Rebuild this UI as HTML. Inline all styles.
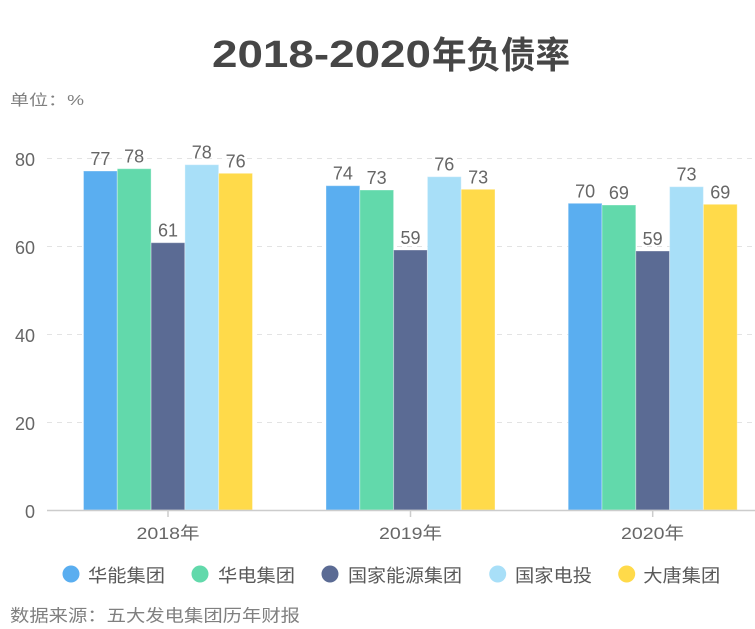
<!DOCTYPE html>
<html><head><meta charset="utf-8"><style>
html,body{margin:0;padding:0;background:#fff;}
svg{display:block;}
text{font-family:"Liberation Sans","Noto Sans CJK SC",sans-serif;}
</style></head><body>
<svg width="755" height="629" viewBox="0 0 755 629" xmlns="http://www.w3.org/2000/svg">
<rect width="755" height="629" fill="#fff"/>
<!-- title -->
<text x="212" y="67" font-size="38" font-weight="bold" fill="#464646" textLength="219" lengthAdjust="spacingAndGlyphs">2018-2020</text>
<text x="432" y="68" font-size="37" font-weight="bold" fill="#464646" textLength="138" lengthAdjust="spacingAndGlyphs" style="font-family:'Noto Sans CJK SC',sans-serif">年负债率</text>
<text x="10" y="105" font-size="15" fill="#808080" textLength="74" lengthAdjust="spacingAndGlyphs">单位：%</text>
<!-- grid -->
<g stroke="#e3e3e3" stroke-width="1" stroke-dasharray="5,5">
<line x1="47" y1="158.5" x2="755" y2="158.5"/>
<line x1="47" y1="246.5" x2="755" y2="246.5"/>
<line x1="47" y1="334.5" x2="755" y2="334.5"/>
<line x1="47" y1="422.5" x2="755" y2="422.5"/>
</g>
<g font-size="18" fill="#666" text-anchor="end">
<text x="35" y="166">80</text>
<text x="35" y="254">60</text>
<text x="35" y="342">40</text>
<text x="35" y="430">20</text>
<text x="35" y="518">0</text>
</g>
<!-- bars -->
<g stroke="rgba(255,255,255,0.35)" stroke-width="1">
<rect x="83.5" y="171" width="33.8" height="339" fill="#5aaef0"/>
<rect x="117.3" y="168.7" width="33.8" height="341.3" fill="#62d9ab"/>
<rect x="151.1" y="242.7" width="33.8" height="267.3" fill="#5b6b94"/>
<rect x="184.9" y="164.7" width="33.8" height="345.3" fill="#a8dff8"/>
<rect x="218.7" y="173.3" width="33.8" height="336.7" fill="#ffda4a"/>

<rect x="326" y="185.7" width="33.8" height="324.3" fill="#5aaef0"/>
<rect x="359.8" y="190" width="33.8" height="320" fill="#62d9ab"/>
<rect x="393.6" y="250" width="33.8" height="260" fill="#5b6b94"/>
<rect x="427.4" y="176.7" width="33.8" height="333.3" fill="#a8dff8"/>
<rect x="461.2" y="189.3" width="33.8" height="320.7" fill="#ffda4a"/>

<rect x="568.2" y="203.3" width="33.8" height="306.7" fill="#5aaef0"/>
<rect x="602" y="205" width="33.8" height="305" fill="#62d9ab"/>
<rect x="635.8" y="251" width="33.8" height="259" fill="#5b6b94"/>
<rect x="669.6" y="186.7" width="33.8" height="323.3" fill="#a8dff8"/>
<rect x="703.4" y="204.3" width="33.8" height="305.7" fill="#ffda4a"/>
</g>
<!-- value labels -->
<g font-size="18" fill="#666" text-anchor="middle">
<text x="100.4" y="165">77</text>
<text x="134.2" y="162.7">78</text>
<text x="168" y="236.7">61</text>
<text x="201.8" y="158.7">78</text>
<text x="235.6" y="167.3">76</text>

<text x="342.9" y="179.7">74</text>
<text x="376.7" y="184">73</text>
<text x="410.5" y="244">59</text>
<text x="444.3" y="170.7">76</text>
<text x="478.1" y="183.3">73</text>

<text x="585.1" y="197.3">70</text>
<text x="618.9" y="199">69</text>
<text x="652.7" y="245">59</text>
<text x="686.5" y="180.7">73</text>
<text x="720.3" y="198.3">69</text>
</g>
<!-- axis -->
<line x1="47" y1="510.5" x2="755" y2="510.5" stroke="#cccccc" stroke-width="1.5"/>
<g stroke="#cccccc" stroke-width="1.5">
<line x1="168" y1="510" x2="168" y2="517"/>
<line x1="410.5" y1="510" x2="410.5" y2="517"/>
<line x1="652.7" y1="510" x2="652.7" y2="517"/>
</g>
<g font-size="17" fill="#666">
<text x="136.5" y="539" textLength="63" lengthAdjust="spacingAndGlyphs">2018年</text>
<text x="379" y="539" textLength="63" lengthAdjust="spacingAndGlyphs">2019年</text>
<text x="621" y="539" textLength="63" lengthAdjust="spacingAndGlyphs">2020年</text>
</g>
<!-- legend -->
<circle cx="71" cy="574" r="8.5" fill="#5aaef0"/>
<circle cx="200" cy="574" r="8.5" fill="#62d9ab"/>
<circle cx="330" cy="574" r="8.5" fill="#5b6b94"/>
<circle cx="497.7" cy="574" r="8.5" fill="#a8dff8"/>
<circle cx="626.7" cy="574" r="8.5" fill="#ffda4a"/>
<g font-size="18" fill="#595959">
<text x="88" y="582" textLength="77" lengthAdjust="spacingAndGlyphs">华能集团</text>
<text x="218" y="582" textLength="77" lengthAdjust="spacingAndGlyphs">华电集团</text>
<text x="348" y="582" textLength="114" lengthAdjust="spacingAndGlyphs">国家能源集团</text>
<text x="515" y="582" textLength="77" lengthAdjust="spacingAndGlyphs">国家电投</text>
<text x="643.3" y="582" textLength="77" lengthAdjust="spacingAndGlyphs">大唐集团</text>
</g>
<text x="10" y="621.5" font-size="17" fill="#808080" textLength="290" lengthAdjust="spacingAndGlyphs">数据来源：五大发电集团历年财报</text>
</svg>
</body></html>
